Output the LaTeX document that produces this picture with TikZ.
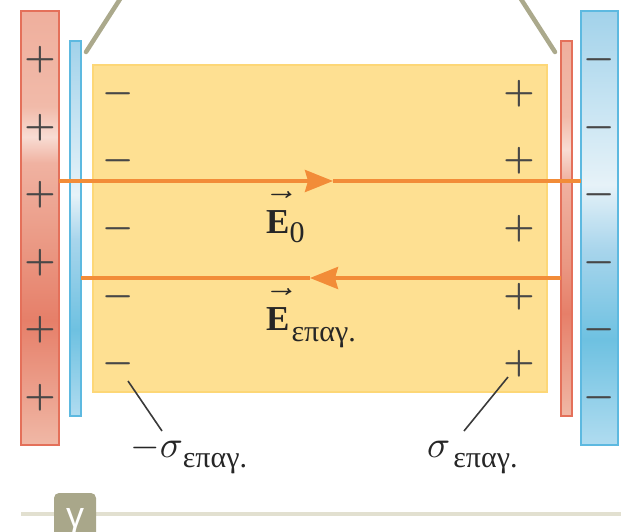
\documentclass[tikz,border=0pt]{standalone}
\usepackage{graphicx}
\usepackage{fontspec}
\setmainfont{Liberation Serif}
\newfontfamily\tabfont{Liberation Sans}
\usetikzlibrary{arrows.meta}
\definecolor{redline}{HTML}{E4705A}
\definecolor{blueline}{HTML}{5DB9E0}
\definecolor{ylfill}{HTML}{FEE092}
\definecolor{ylline}{HTML}{FDD777}
\definecolor{orangec}{HTML}{F28C38}
\definecolor{signc}{HTML}{474747}
\definecolor{leadc}{HTML}{3A3A3A}
\definecolor{stemc}{HTML}{ABA98C}
\definecolor{tabc}{HTML}{A9A78A}
\definecolor{rulec}{HTML}{E2E0D0}
% red plate colours
\definecolor{ra}{HTML}{EFAF9D}\definecolor{rb}{HTML}{F1BAA9}\definecolor{rc}{HTML}{F8DCD3}
\definecolor{rd}{HTML}{F0B2A1}\definecolor{re}{HTML}{EA9782}\definecolor{rf}{HTML}{E67F69}
\definecolor{rg}{HTML}{F0B8A6}
% blue plate colours
\definecolor{ba}{HTML}{A2D2EA}\definecolor{bb}{HTML}{C5E3F2}\definecolor{bc}{HTML}{E6F2F8}
\definecolor{bd}{HTML}{A8D5EC}\definecolor{be}{HTML}{6EC1E1}\definecolor{bf}{HTML}{B0DCF0}
\pgfdeclareverticalshading{redL}{100bp}{color(0bp)=(rg); color(25bp)=(rg); color(39.4bp)=(rf); color(47.5bp)=(re); color(57.5bp)=(rd); color(60.5bp)=(rc); color(64bp)=(rb); color(75bp)=(ra); color(100bp)=(ra)}
\pgfdeclareverticalshading{redT}{100bp}{color(0bp)=(rg); color(25bp)=(rg); color(38.7bp)=(rf); color(45bp)=(re); color(56.5bp)=(rd); color(60.5bp)=(rc); color(65bp)=(rb); color(75bp)=(ra); color(100bp)=(ra)}
\pgfdeclareverticalshading{blueR}{100bp}{color(0bp)=(bf); color(25bp)=(bf); color(37.1bp)=(be); color(47.5bp)=(bd); color(55bp)=(bc); color(64.7bp)=(bb); color(75bp)=(ba); color(100bp)=(ba)}
\pgfdeclareverticalshading{blueT}{100bp}{color(0bp)=(bf); color(25bp)=(bf); color(36.5bp)=(be); color(48.5bp)=(bd); color(54.5bp)=(bc); color(64.5bp)=(bb); color(75bp)=(ba); color(100bp)=(ba)}
\newcommand\bigsign[1]{\scalebox{3.5}{\boldmath$#1$}}
\newcommand\vecE{\ooalign{\fontsize{35}{40}\selectfont\textbf{E}\cr\hidewidth\raisebox{17pt}{\scalebox{4.6}[3.5]{$\mathchar"017E$}}\hidewidth\cr}}
\newcommand\subtxt[2]{\raisebox{-#1}{\fontsize{30}{32}\selectfont #2}}
\begin{document}
\begin{tikzpicture}[x=1pt,y=-1pt,
  plate/.style={line width=1.8pt, inner sep=0pt, outer sep=0pt, shade},
  sign/.style={inner sep=0pt, text=signc},
  efield/.style={line width=3.5pt, draw=orangec},
  efieldtip/.style={efield, -{Stealth[length=28pt, width=22pt, inset=3pt]}},
  stem/.style={line width=4.5pt, draw=stemc, line cap=round},
  leader/.style={line width=1.6pt, draw=leadc},
  lbl/.style={anchor=base west, inner sep=0pt, text=black!85}]
\useasboundingbox (0,0) rectangle (621,531);

% gray stems at the top
\coordinate (gl1) at (86,52);  \coordinate (gl2) at (122,-4);
\coordinate (gr1) at (555,52); \coordinate (gr2) at (519,-4);
\draw[stem] (gl1) -- (gl2);
\draw[stem] (gr1) -- (gr2);

% dielectric slab
\node[draw=ylline, fill=ylfill, line width=1.2pt, minimum width=454pt, minimum height=327pt, inner sep=0pt] (slab) at (320,228.5) {};

% plates
\node[plate, shading=redL, draw=redline, minimum width=38pt, minimum height=434pt] (lp) at (40,228) {};
\node[plate, shading=blueT, draw=blueline, minimum width=11pt, minimum height=375pt] (lt) at (75.5,228.5) {};
\node[plate, shading=redT, draw=redline, minimum width=11pt, minimum height=375pt] (rt) at (566.5,228.5) {};
\node[plate, shading=blueR, draw=blueline, minimum width=37pt, minimum height=434pt] (rp) at (599.5,228) {};

% signs
\foreach \y [count=\i] in {60,127.5,195,262.5,330,397.5}{
  \node[sign] (lplus\i) at (40,\y) {\bigsign{+}};
  \node[sign] (rminus\i) at (599,\y) {\bigsign{-}};
}
\foreach \y [count=\i] in {94,161,229,296.5,364}{
  \node[sign] (sminus\i) at (118,\y) {\bigsign{-}};
  \node[sign] (splus\i) at (519,\y) {\bigsign{+}};
}

% field lines
\coordinate (ya) at (0,181);
\coordinate (yb) at (0,278);
\coordinate (tipA) at (333,181);
\coordinate (tipB) at (310,278);
\draw[efieldtip] (lp.east |- ya) -- (tipA);
\draw[efield] (tipA) -- (rp.west |- ya);
\draw[efieldtip] (rt.west |- yb) -- (tipB);
\draw[efield] (tipB) -- (lt.east |- yb);

% field labels
\node[lbl] (E0) at (266,233) {\vecE\subtxt{9pt}{0}};
\node[lbl] (Ei) at (266,330) {\vecE\hspace{2pt}\subtxt{11pt}{επαγ.}};

% induced charge labels
\node[lbl] (sl) at (130,457) {\scalebox{3.8}{$-\sigma$}\subtxt{10pt}{επαγ.}};
\node[lbl] (sr) at (427,457) {\scalebox{3.8}{$\sigma$}\hspace{3pt}\subtxt{10pt}{επαγ.}};
\coordinate (ls) at (128,381); \coordinate (le) at (162,431);
\coordinate (rs) at (508,377); \coordinate (re) at (464,431);
\draw[leader] (ls) -- (le);
\draw[leader] (rs) -- (re);

% bottom rule and tab
\coordinate (ru1) at (21,514); \coordinate (ru2) at (625,514);
\draw[line width=4pt, draw=rulec] (ru1) -- (ru2);
\fill[tabc, rounded corners=5pt] (54,540) rectangle (96,493);
\node[inner sep=0pt, anchor=base, text=white, font=\tabfont\fontsize{36}{38}\selectfont] (tab) at (75,527) {γ};
\end{tikzpicture}
\end{document}
